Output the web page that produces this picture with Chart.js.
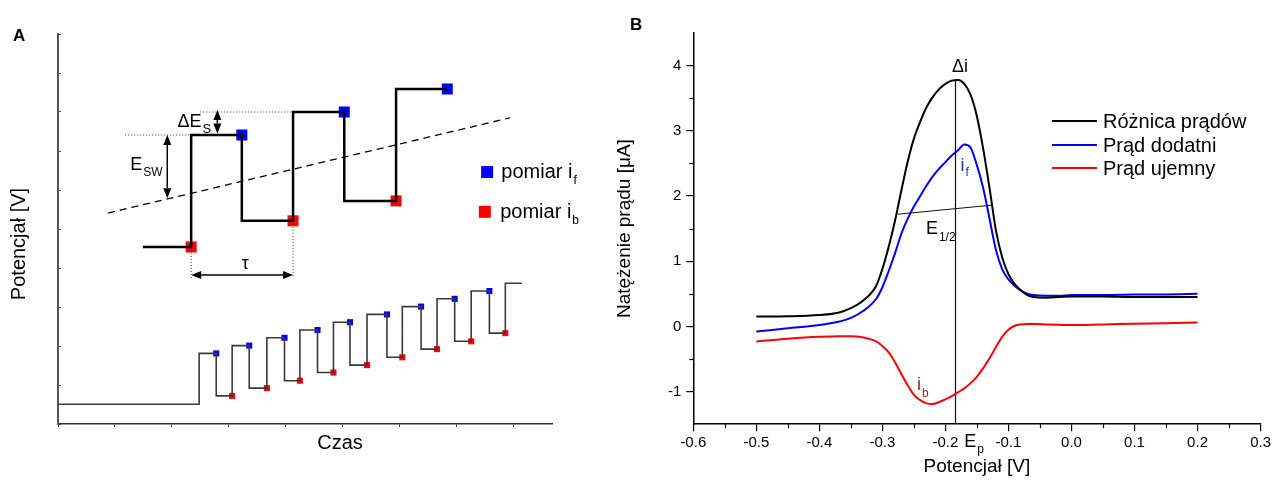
<!DOCTYPE html>
<html>
<head>
<meta charset="utf-8">
<script src="https://cdn.jsdelivr.net/npm/chart.js@4"></script>
<style>
body { margin: 0; background: #fff; width: 1274px; height: 483px; overflow: hidden; position: relative; }
canvas { position: absolute; top: 0; }
#chartA { left: 0; }
#chartB { left: 600px; }
</style>
</head>
<body>
<canvas id="chartA" width="600" height="483"></canvas>
<canvas id="chartB" width="674" height="483"></canvas>
<script>
const FONT = "'Liberation Sans', Arial, sans-serif";

// ---- panel A: square wave program, arbitrary units (time / potential) ----
const smallStepT = [0, 2.48, 2.78, 3.06, 3.36, 3.67, 3.98, 4.25, 4.56, 4.84, 5.13, 5.43, 5.78, 6.05, 6.38, 6.66, 6.97, 7.26, 7.58, 7.86, 8.15];
const smallStepE = [5.05, 18.1, 7.2, 20.1, 9.2, 22.1, 11.1, 24.1, 13.2, 26.1, 15.1, 28.1, 17.1, 30.1, 19.2, 32.1, 21.2, 34.1, 23.3, 36.1, 36.1];
const smallFwdT = [2.78, 3.36, 3.98, 4.56, 5.13, 5.78, 6.38, 6.97, 7.58];
const smallFwdE = [18.1, 20.1, 22.1, 24.1, 26.1, 28.1, 30.1, 32.1, 34.1];
const smallRevT = [3.06, 3.67, 4.25, 4.84, 5.43, 6.05, 6.66, 7.26, 7.86];
const smallRevE = [7.2, 9.2, 11.1, 13.2, 15.1, 17.1, 19.2, 21.2, 23.3];

const bigStepT = [1.49, 2.34, 3.23, 4.13, 5.03, 5.94, 6.84];
const bigStepE = [45.4, 74.1, 52.1, 80.0, 57.2, 85.9, 85.9];
const bigFwdT = [3.23, 5.03, 6.84];
const bigFwdE = [74.1, 80.0, 85.9];
const bigRevT = [2.34, 4.13, 5.94];
const bigRevE = [45.4, 52.1, 57.2];

// staircase mid line (dashed)
const rampT = [0.88, 7.94];
const rampE = [54.1, 78.5];

// dotted guides [t1, e1, t2, e2]
const guides = [[1.18, 74.1, 2.34, 74.1], [2.50, 80.0, 4.13, 80.0], [2.34, 45.4, 2.34, 37.4], [4.13, 52.1, 4.13, 37.4]];
// double arrows [t1, e1, t2, e2]
const arrows = [[1.92, 74.1, 1.92, 57.9], [2.80, 80.5, 2.80, 74.5], [2.34, 38.2, 4.13, 38.2]];

// ---- panel B: voltammogram ----
const potential = [-0.50, -0.45, -0.40, -0.37, -0.35, -0.33, -0.31, -0.30, -0.29, -0.28, -0.27, -0.26, -0.25, -0.24, -0.23, -0.22, -0.21, -0.20, -0.19, -0.18, -0.17, -0.16, -0.15, -0.14, -0.13, -0.12, -0.11, -0.10, -0.09, -0.08, -0.07, -0.06, -0.04, -0.02, 0.00, 0.05, 0.10, 0.15, 0.20];
const diffCurrent = [0.15, 0.155, 0.175, 0.21, 0.28, 0.40, 0.62, 0.88, 1.22, 1.62, 2.08, 2.52, 2.88, 3.14, 3.36, 3.52, 3.64, 3.72, 3.77, 3.78, 3.72, 3.55, 3.22, 2.72, 2.12, 1.48, 1.06, 0.80, 0.65, 0.55, 0.48, 0.45, 0.44, 0.45, 0.46, 0.46, 0.45, 0.45, 0.45];
const fwdCurrent = [-0.08, -0.03, 0.02, 0.07, 0.13, 0.24, 0.42, 0.60, 0.85, 1.12, 1.42, 1.65, 1.84, 2.00, 2.16, 2.30, 2.42, 2.52, 2.62, 2.70, 2.79, 2.74, 2.47, 2.12, 1.65, 1.18, 0.88, 0.72, 0.62, 0.55, 0.50, 0.48, 0.47, 0.47, 0.48, 0.48, 0.49, 0.49, 0.50];
const revCurrent = [-0.23, -0.19, -0.16, -0.15, -0.15, -0.17, -0.23, -0.30, -0.40, -0.55, -0.73, -0.90, -1.05, -1.13, -1.18, -1.19, -1.16, -1.12, -1.07, -1.01, -0.95, -0.87, -0.77, -0.64, -0.49, -0.32, -0.16, -0.05, 0.01, 0.03, 0.035, 0.035, 0.03, 0.025, 0.02, 0.03, 0.04, 0.05, 0.06];
const seriesNames = ['Różnica prądów', 'Prąd dodatni', 'Prąd ujemny'];
const peakPotential = -0.184;
const peakCurrent = 3.78;
const halfWaveT = [-0.276, -0.126];
const halfWaveI = [1.72, 1.86];
const xMajor = [-0.6, -0.5, -0.4, -0.3, -0.2, -0.1, 0.0, 0.1, 0.2, 0.3];
const yMajor = [-1, 0, 1, 2, 3, 4];
const xMinor = [-0.55, -0.45, -0.35, -0.25, -0.15, -0.05, 0.05, 0.15, 0.25];
const yMinor = [-0.5, 0.5, 1.5, 2.5, 3.5];

function zip(xs, ys) {
    return xs.map((x, i) => ({ x, y: ys[i] }));
}

function arrowHead(ctx, x, y, dx, dy, len, half) {
    ctx.beginPath();
    ctx.moveTo(x, y);
    ctx.lineTo(x - dx * len - dy * half, y - dy * len + dx * half);
    ctx.lineTo(x - dx * len + dy * half, y - dy * len - dx * half);
    ctx.closePath();
    ctx.fill();
}

function subText(ctx, x, y, main, sub, size, subSize, drop, color) {
    ctx.fillStyle = color;
    ctx.textAlign = 'left';
    ctx.textBaseline = 'alphabetic';
    ctx.font = `${size}px ${FONT}`;
    ctx.fillText(main, x, y);
    const w = ctx.measureText(main).width;
    ctx.font = `${subSize}px ${FONT}`;
    ctx.fillText(sub, x + w + 1, y + drop);
}

const annotA = {
    id: 'annotA',
    afterDatasetsDraw(chart) {
        const { ctx, scales: { x, y } } = chart;
        const P = (t, e) => [x.getPixelForValue(t), y.getPixelForValue(e)];
        ctx.save();
        // dotted guides
        ctx.strokeStyle = '#333';
        ctx.lineWidth = 1;
        ctx.setLineDash([1, 2]);
        guides.forEach(g => {
            const [x1, y1] = P(g[0], g[1]);
            const [x2, y2] = P(g[2], g[3]);
            ctx.beginPath(); ctx.moveTo(x1, y1); ctx.lineTo(x2, y2); ctx.stroke();
        });
        ctx.setLineDash([]);
        // double arrows
        ctx.strokeStyle = '#000';
        ctx.fillStyle = '#000';
        ctx.lineWidth = 1.5;
        arrows.forEach(a => {
            const [x1, y1] = P(a[0], a[1]);
            const [x2, y2] = P(a[2], a[3]);
            const L = Math.hypot(x2 - x1, y2 - y1);
            const dx = (x2 - x1) / L, dy = (y2 - y1) / L;
            const hl = Math.min(10, L / 2.3);
            ctx.beginPath();
            ctx.moveTo(x1 + dx * hl, y1 + dy * hl);
            ctx.lineTo(x2 - dx * hl, y2 - dy * hl);
            ctx.stroke();
            arrowHead(ctx, x2, y2, dx, dy, hl, 4);
            arrowHead(ctx, x1, y1, -dx, -dy, hl, 4);
        });
        // labels
        let [lx, ly] = P(2.10, 76.2);
        subText(ctx, lx, ly, '\u0394E', 'S', 18, 13, 6, '#000');
        [lx, ly] = P(1.27, 65.1);
        subText(ctx, lx, ly, 'E', 'SW', 18, 12, 6, '#000');
        [lx, ly] = P(3.29, 39.8);
        ctx.font = `18px ${FONT}`;
        ctx.textAlign = 'center';
        ctx.fillText('\u03c4', lx, ly);
        // legend of markers
        let [sx, sy] = P(7.54, 64.6);
        ctx.fillStyle = '#0000ff';
        ctx.fillRect(sx - 6, sy - 6, 12, 12);
        [sx, sy] = P(7.50, 54.4);
        ctx.fillStyle = '#ff0000';
        ctx.fillRect(sx - 6, sy - 6, 12, 12);
        [lx, ly] = P(7.79, 63.1);
        subText(ctx, lx, ly, 'pomiar i', 'f', 20, 12, 6, '#000');
        [lx, ly] = P(7.77, 52.8);
        subText(ctx, lx, ly, 'pomiar i', 'b', 20, 12, 6, '#000');
        // axis titles and panel letter
        ctx.fillStyle = '#000';
        ctx.font = `20px ${FONT}`;
        ctx.textAlign = 'center';
        ctx.textBaseline = 'alphabetic';
        ctx.fillText('Czas', 340, 449);
        ctx.save();
        ctx.translate(25, 244);
        ctx.rotate(-Math.PI / 2);
        ctx.fillText('Potencjał [V]', 0, 0);
        ctx.restore();
        ctx.font = `bold 17px ${FONT}`;
        ctx.textAlign = 'left';
        ctx.fillText('A', 13, 41);
        ctx.restore();
    }
};

const annotB = {
    id: 'annotB',
    afterDraw(chart) {
        const { ctx, scales: { x, y }, chartArea } = chart;
        ctx.save();
        // minor ticks
        ctx.strokeStyle = '#000';
        ctx.lineWidth = 1.2;
        xMinor.forEach(v => {
            const p = Math.round(x.getPixelForValue(v)) + 0.5;
            ctx.beginPath(); ctx.moveTo(p, chartArea.bottom); ctx.lineTo(p, chartArea.bottom + 4); ctx.stroke();
        });
        yMinor.forEach(v => {
            const p = Math.round(y.getPixelForValue(v)) + 0.5;
            ctx.beginPath(); ctx.moveTo(chartArea.left, p); ctx.lineTo(chartArea.left - 4, p); ctx.stroke();
        });
        // legend
        const colors = chart.data.datasets.slice(0, 3).map(d => d.borderColor);
        const rows = [121, 145, 168];
        rows.forEach((ry, i) => {
            ctx.strokeStyle = colors[i];
            ctx.lineWidth = 2;
            ctx.beginPath(); ctx.moveTo(452, ry); ctx.lineTo(497, ry); ctx.stroke();
            ctx.fillStyle = '#000';
            ctx.font = `20px ${FONT}`;
            ctx.textAlign = 'left';
            ctx.textBaseline = 'alphabetic';
            ctx.fillText(seriesNames[i], 503, ry + 7);
        });
        // curve labels
        const P = (v, i) => [x.getPixelForValue(v), y.getPixelForValue(i)];
        let [lx, ly] = P(-0.177, 3.90);
        ctx.font = `18px ${FONT}`;
        ctx.textAlign = 'center';
        ctx.fillStyle = '#000';
        ctx.fillText('\u0394i', lx, ly);
        [lx, ly] = P(-0.176, 2.38);
        subText(ctx, lx, ly, 'i', 'f', 18, 12, 5, '#2a2a9c');
        [lx, ly] = P(-0.231, 1.41);
        subText(ctx, lx, ly, 'E', '1/2', 18, 12, 7, '#000');
        [lx, ly] = P(-0.245, -0.97);
        subText(ctx, lx, ly, 'i', 'b', 18, 12, 7, '#9c1c1c');
        [lx, ly] = P(-0.170, -1.5);
        subText(ctx, lx, ly + 23, 'E', 'p', 18, 12, 6, '#000');
        // panel letter
        ctx.fillStyle = '#000';
        ctx.font = `bold 17px ${FONT}`;
        ctx.textAlign = 'left';
        ctx.fillText('B', 30, 30);
        ctx.restore();
    }
};

new Chart(document.getElementById('chartA'), {
    type: 'line',
    data: {
        datasets: [
            { data: zip(rampT, rampE), borderColor: '#000', borderWidth: 1.3, borderDash: [7, 5], pointRadius: 0 },
            { data: zip(smallStepT, smallStepE), borderColor: '#3a3a3a', borderWidth: 1.6, stepped: true, pointRadius: 0 },
            { data: zip(bigStepT, bigStepE), borderColor: '#000', borderWidth: 2.5, stepped: true, pointRadius: 0 },
            { data: zip(smallFwdT, smallFwdE), showLine: false, pointStyle: 'rect', pointRadius: 4.3, backgroundColor: '#0000ff', borderWidth: 0 },
            { data: zip(smallRevT, smallRevE), showLine: false, pointStyle: 'rect', pointRadius: 4.3, backgroundColor: '#ff0000', borderWidth: 0 },
            { data: zip(bigFwdT, bigFwdE), showLine: false, pointStyle: 'rect', pointRadius: 7.8, backgroundColor: '#0000ff', borderWidth: 0 },
            { data: zip(bigRevT, bigRevE), showLine: false, pointStyle: 'rect', pointRadius: 7.8, backgroundColor: '#ff0000', borderWidth: 0 }
        ]
    },
    options: {
        responsive: false,
        animation: false,
        layout: { padding: { top: 34, right: 48, left: 0, bottom: 0 } },
        plugins: { legend: { display: false }, tooltip: { enabled: false } },
        scales: {
            x: {
                type: 'linear', min: 0, max: 8.68,
                ticks: { display: false, stepSize: 1, includeBounds: false },
                grid: { drawOnChartArea: false, tickLength: 3, color: '#444' },
                border: { color: '#333', width: 1.5 },
                afterFit(s) { s.height = 59; }
            },
            y: {
                type: 'linear', min: 0, max: 100,
                ticks: { display: false, stepSize: 10, includeBounds: false },
                grid: { drawOnChartArea: false, tickLength: -3, color: '#555' },
                border: { color: '#555', width: 2 },
                afterFit(s) { s.width = 58; }
            }
        }
    },
    plugins: [annotA]
});

new Chart(document.getElementById('chartB'), {
    type: 'line',
    data: {
        datasets: [
            { label: seriesNames[0], data: zip(potential, diffCurrent), borderColor: '#000000', borderWidth: 2, pointRadius: 0, cubicInterpolationMode: 'monotone' },
            { label: seriesNames[1], data: zip(potential, fwdCurrent), borderColor: '#0000ff', borderWidth: 2, pointRadius: 0, cubicInterpolationMode: 'monotone' },
            { label: seriesNames[2], data: zip(potential, revCurrent), borderColor: '#ff0000', borderWidth: 2, pointRadius: 0, cubicInterpolationMode: 'monotone' },
            { data: [{ x: peakPotential, y: -1.5 }, { x: peakPotential, y: peakCurrent }], borderColor: '#111', borderWidth: 1.2, pointRadius: 0 },
            { data: zip(halfWaveT, halfWaveI), borderColor: '#111', borderWidth: 1, pointRadius: 0 }
        ]
    },
    options: {
        responsive: false,
        animation: false,
        layout: { padding: { top: 33, right: 10.7, left: 0, bottom: 0 } },
        plugins: { legend: { display: false }, tooltip: { enabled: false } },
        scales: {
            x: {
                type: 'linear', min: -0.6, max: 0.3,
                afterBuildTicks(s) { s.ticks = xMajor.map(v => ({ value: v })); },
                ticks: {
                    autoSkip: false, maxRotation: 0,
                    color: '#000', font: { size: 15, family: FONT }, padding: 3,
                    callback: v => Math.abs(v) < 1e-9 ? '0.0' : v.toFixed(1)
                },
                grid: { drawOnChartArea: false, tickLength: 7, color: '#000', lineWidth: 1.2 },
                border: { color: '#000', width: 1.5 },
                title: { display: true, text: 'Potencjał [V]', color: '#000', font: { size: 19, family: FONT }, padding: { top: 0, bottom: 5 } },
                afterFit(s) { s.height = 58.8; }
            },
            y: {
                type: 'linear', min: -1.5, max: 4.5,
                afterBuildTicks(s) { s.ticks = yMajor.map(v => ({ value: v })); },
                ticks: {
                    autoSkip: false,
                    color: '#000', font: { size: 15, family: FONT }, padding: 5,
                    callback: v => String(v)
                },
                grid: { drawOnChartArea: false, tickLength: 7, color: '#000', lineWidth: 1.2 },
                border: { color: '#000', width: 1.5 },
                title: { display: true, text: 'Natężenie prądu [μA]', color: '#000', font: { size: 19, family: FONT }, padding: { top: 13, bottom: 0 } },
                afterFit(s) { s.width = 93.3; }
            }
        }
    },
    plugins: [annotB]
});
</script>
</body>
</html>
